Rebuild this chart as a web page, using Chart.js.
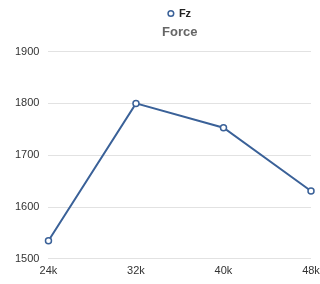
<!DOCTYPE html>
<html>
<head>
<meta charset="utf-8">
<script src="https://cdn.jsdelivr.net/npm/chart.js@4"></script>
<style>
  html, body { margin: 0; padding: 0; background: #fff; }
  #wrap { width: 320px; height: 284px; }
</style>
</head>
<body>
<div id="wrap"><canvas id="forceChart"></canvas></div>
<script>
const categories = ['24k', '32k', '40k', '48k'];
const fzValues = [1535, 1800, 1753, 1631];
const yTicks = [1500, 1600, 1700, 1800, 1900];

Chart.defaults.font.family = '"Liberation Sans", Arial, sans-serif';

const ctx = document.getElementById('forceChart').getContext('2d');
const chart = new Chart(ctx, {
    type: 'line',
    data: {
        labels: categories,
        datasets: [{
            label: 'Fz',
            data: fzValues,
            borderColor: '#3a6198',
            backgroundColor: '#ffffff',
            borderWidth: 2,
            pointRadius: 3,
            pointBorderWidth: 1.5,
            pointBackgroundColor: '#ffffff',
            pointBorderColor: '#3a6198',
            tension: 0
        }]
    },
    options: {
        responsive: true,
        maintainAspectRatio: false,
        animation: false,
        layout: { padding: { left: 6, right: 0, top: 6, bottom: 0 } },
        plugins: {
            legend: {
                position: 'top',
                fullSize: false,
                labels: {
                    usePointStyle: true,
                    pointStyle: 'circle',
                    boxWidth: 5,
                    boxHeight: 4,
                    color: '#222',
                    font: { size: 11, weight: 'bold' },
                    padding: 2
                }
            },
            title: {
                display: true,
                text: 'Force',
                weight: 500,
                fullSize: false,
                color: '#666',
                font: { size: 13, weight: 'bold' },
                padding: { top: -4, bottom: 11 }
            },
            tooltip: { enabled: false }
        },
        scales: {
            x: {
                offset: false,
                grid: { display: false, drawTicks: false },
                border: { display: false },
                ticks: { color: '#333', font: { size: 11 }, padding: 6, maxRotation: 0 },
                // let the last tick label hang closer to the right edge
                afterFit: axis => { axis.paddingRight = 9; }
            },
            y: {
                min: yTicks[0],
                max: yTicks[yTicks.length - 1],
                afterBuildTicks: axis => { axis.ticks = yTicks.map(v => ({ value: v })); },
                grid: { color: '#e2e2e2', drawTicks: false },
                border: { display: false },
                ticks: { color: '#333', font: { size: 11 }, padding: 9, callback: v => String(v) }
            }
        }
    }
});
</script>
</body>
</html>
